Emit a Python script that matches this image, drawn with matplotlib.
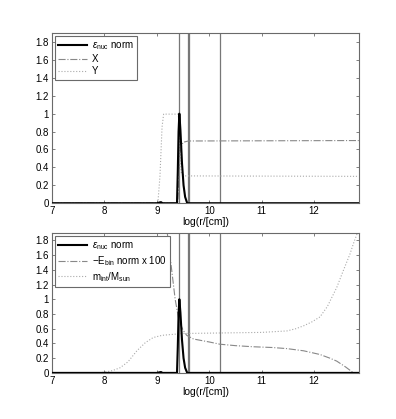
import numpy as np
import matplotlib.pyplot as plt

plt.rcParams['font.family'] = 'Liberation Sans'
plt.rcParams['font.size'] = 7
plt.rcParams['mathtext.fontset'] = 'custom'
plt.rcParams['mathtext.rm'] = 'Liberation Sans'
plt.rcParams['mathtext.it'] = 'Liberation Sans:italic'

# Data (x = log r / cm)
eps_x = [7.0, 9.0, 9.05, 9.08, 9.11, 9.385, 9.40, 9.415, 9.43, 9.45, 9.48, 9.51, 9.54, 9.58, 12.85]
eps_y = [0.0, 0.0, 0.008, 0.012, 0.0, 0.0, 0.35, 0.8, 1.0, 0.82, 0.45, 0.2, 0.07, 0.0, 0.0]

xfrac_x = [7.0, 9.40, 9.42, 9.44, 9.46, 9.50, 9.60, 12.85]
xfrac_y = [0.0, 0.0, 0.25, 0.55, 0.62, 0.68, 0.695, 0.70]

yfrac_x = [7.0, 9.02, 9.06, 9.10, 9.13, 9.41, 9.43, 9.45, 9.47, 9.55, 12.85]
yfrac_y = [0.0, 0.0, 0.3, 0.85, 0.995, 0.995, 0.75, 0.45, 0.33, 0.305, 0.30]

ebin_x = [9.16, 9.20, 9.25, 9.30, 9.35, 9.42, 9.50, 9.57, 9.70, 10.0, 10.2, 10.5, 10.84, 11.2, 11.48, 11.8, 12.11, 12.3, 12.43, 12.6, 12.75]
ebin_y = [2.1, 1.9, 1.6, 1.3, 1.0, 0.72, 0.58, 0.51, 0.46, 0.42, 0.39, 0.37, 0.355, 0.345, 0.33, 0.30, 0.25, 0.2, 0.16, 0.08, 0.0]

mint_x = [7.85, 8.0, 8.15, 8.3, 8.45, 8.62, 8.78, 8.93, 9.1, 9.25, 9.5, 10.0, 10.5, 11.0, 11.48, 11.65, 11.8, 11.95, 12.11, 12.25, 12.43, 12.55, 12.68, 12.76, 12.84]
mint_y = [0.0, 0.01, 0.03, 0.07, 0.15, 0.3, 0.41, 0.48, 0.51, 0.52, 0.535, 0.54, 0.545, 0.55, 0.57, 0.6, 0.64, 0.69, 0.76, 0.9, 1.16, 1.38, 1.61, 1.78, 1.93]

vlines = [9.42, 9.59, 9.615, 10.21]
xticks = [7, 8, 9, 10, 11, 12]
yticks = [0, 0.2, 0.4, 0.6, 0.8, 1, 1.2, 1.4, 1.6, 1.8]
ytick_labels = ['0', '0.2', '0.4', '0.6', '0.8', '1', '1.2', '1.4', '1.6', '1.8']

frame_col = '#6a6a6a'

fig = plt.figure(figsize=(3.96, 4.19), dpi=100)
ax1 = fig.add_axes([0.131, 0.515, 0.775, 0.406])
ax2 = fig.add_axes([0.131, 0.110, 0.775, 0.334])


def style(ax):
    ax.set_xlim(7, 12.85)
    ax.set_ylim(0, 1.9)
    ax.set_xticks(xticks)
    ax.set_xticklabels([str(t) for t in xticks])
    ax.set_yticks(yticks)
    ax.set_yticklabels(ytick_labels)
    ax.tick_params(direction='in', length=2.5, width=0.6, color=frame_col,
                   top=True, right=True, pad=2, labelsize=7)
    for s in ax.spines.values():
        s.set_color(frame_col)
        s.set_linewidth(0.8)
    for v in vlines:
        ax.axvline(v, color='#777777', lw=0.9, zorder=1)
    ax.set_xlabel('log(r/[cm])', fontsize=7.5, labelpad=1)


def legend(ax):
    leg = ax.legend(loc='upper left', fontsize=7, handlelength=3.0, borderaxespad=0.3,
                    fancybox=False, framealpha=1, edgecolor=frame_col,
                    borderpad=0.35, labelspacing=0.2, handletextpad=0.5)
    leg.get_frame().set_linewidth(0.8)


# Top panel
style(ax1)
ax1.plot(eps_x, eps_y, color='black', lw=1.5, label=r'$\epsilon_{\mathrm{nuc}}$ norm', zorder=3)
ax1.plot(xfrac_x, xfrac_y, color='#888888', lw=0.8, ls='-.', label='X', zorder=2)
ax1.plot(yfrac_x, yfrac_y, color='#aaaaaa', lw=0.8, ls=':', label='Y', zorder=2)
legend(ax1)

# Bottom panel
style(ax2)
ax2.plot(eps_x, eps_y, color='black', lw=1.5, label=r'$\epsilon_{\mathrm{nuc}}$ norm', zorder=3)
ax2.plot(ebin_x, ebin_y, color='#888888', lw=0.8, ls='-.',
         label=r'$-\mathrm{E}_{\mathrm{bin}}$ norm x 100', zorder=2)
ax2.plot(mint_x, mint_y, color='#aaaaaa', lw=0.8, ls=':',
         label=r'$\mathrm{m}_{\mathrm{int}}/\mathrm{M}_{\mathrm{sun}}$', zorder=2)
legend(ax2)

fig.savefig('out.png', dpi=100)
